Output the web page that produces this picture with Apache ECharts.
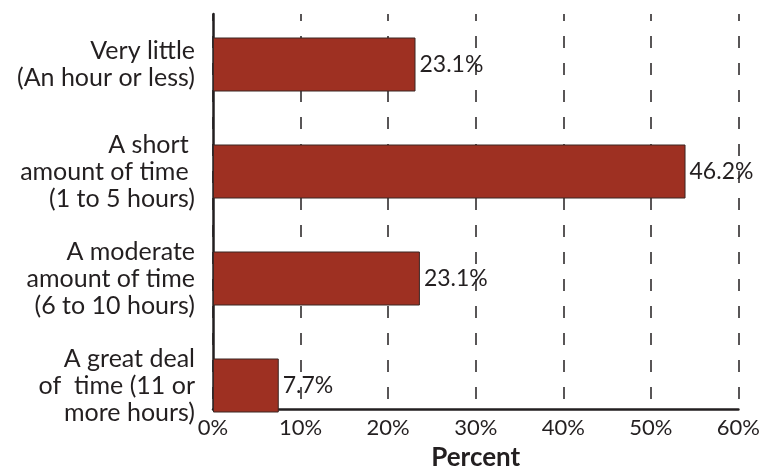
<!DOCTYPE html>
<html>
<head>
<meta charset="utf-8">
<script src="https://cdn.jsdelivr.net/npm/echarts@6/dist/echarts.min.js"></script>
<style>
  html, body { margin: 0; padding: 0; background: #fff; }
  #main { width: 763px; height: 476px; }
</style>
</head>
<body>
<div id="main"></div>
<script>
  // categories, top to bottom
  var categories = [
    'Very little\n(An hour or less)',
    'A short \namount of time \n(1 to 5 hours)',
    'A moderate\namount of time\n(6 to 10 hours)',
    'A great deal\nof  time (11 or\nmore hours)'
  ];
  // bar lengths as drawn in the picture (percent)
  var barValues = [23.1, 53.9, 23.6, 7.5];
  // printed value labels
  var barLabels = ['23.1%', '46.2%', '23.1%', '7.7%'];
  var xTicks = [0, 10, 20, 30, 40, 50, 60];

  var textColor = '#231f20';
  var font = 'Lato';

  var chart = echarts.init(document.getElementById('main'));
  var option = {
    animation: false,
    backgroundColor: '#fff',
    grid: [
      // bars
      { left: 213, right: 24, top: 11, bottom: 37 },
      // axes and dashed grid
      { left: 213, right: 24, top: 14, bottom: 56 }
    ],
    xAxis: [
      {
        gridIndex: 0, type: 'value', min: xTicks[0], max: xTicks[xTicks.length - 1], interval: 10,
        show: false
      },
      {
        gridIndex: 1, type: 'value', min: xTicks[0], max: xTicks[xTicks.length - 1], interval: 10,
        name: 'Percent',
        nameLocation: 'middle',
        nameGap: 36,
        nameTextStyle: { color: textColor, fontFamily: font, fontSize: 26, fontWeight: 'bold' },
        axisLine: { show: true, lineStyle: { color: textColor, width: 2.5 } },
        axisTick: { show: false },
        axisLabel: {
          color: textColor, fontFamily: font, fontSize: 22, margin: 8,
          formatter: function (v) { return v + '%'; }
        },
        splitLine: {
          show: true,
          lineStyle: { color: textColor, width: 1.5, type: [12, 15], dashOffset: 5 }
        }
      }
    ],
    yAxis: [
      {
        gridIndex: 0, type: 'category', data: categories, inverse: true,
        axisLine: { show: false },
        axisTick: { show: false },
        axisLabel: {
          color: textColor, fontFamily: font, fontSize: 25, lineHeight: 27,
          margin: 18, align: 'right'
        }
      },
      {
        gridIndex: 1, type: 'value', min: 0, max: 1,
        axisLine: { show: true, lineStyle: { color: textColor, width: 2.5 } },
        axisTick: { show: false },
        axisLabel: { show: false },
        splitLine: { show: false }
      }
    ],
    series: [{
      type: 'bar',
      xAxisIndex: 0,
      yAxisIndex: 0,
      data: barValues,
      barWidth: 54,
      itemStyle: { color: '#9e3022', borderColor: '#3b2623', borderWidth: 1 },
      label: {
        show: true,
        position: 'right',
        distance: 4,
        color: textColor,
        fontFamily: font,
        fontSize: 23,
        formatter: function (p) { return barLabels[p.dataIndex]; }
      }
    }]
  };
  chart.setOption(option);
</script>
</body>
</html>
